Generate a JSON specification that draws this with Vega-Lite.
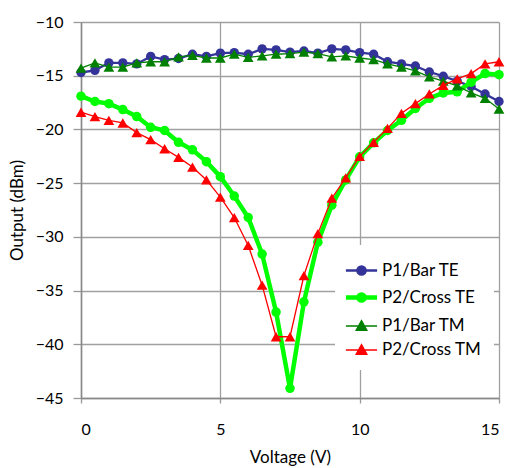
{
  "$schema": "https://vega.github.io/schema/vega-lite/v6.json",
  "width": 418,
  "height": 376,
  "autosize": "none",
  "padding": {"left": 81, "top": 22, "right": 11, "bottom": 70},
  "background": "white",
  "config": {
    "font": "Lato",
    "view": {"stroke": null},
    "axis": {
      "grid": true,
      "gridColor": "#a0a0a0",
      "gridWidth": 1.3,
      "domainColor": "#888888",
      "domainWidth": 1.5,
      "tickColor": "#999999",
      "tickWidth": 1.3,
      "labelColor": "black",
      "labelFontSize": 16,
      "titleColor": "black",
      "titleFontSize": 17,
      "titleFontWeight": "normal"
    },
    "legend": {
      "orient": "none", "legendX": 254, "legendY": 223, "title": null,
      "fillColor": "white", "padding": 12,
      "symbolSize": 576, "symbolOpacity": 1,
      "labelFontSize": 17, "labelColor": "black", "labelOffset": 6, "rowPadding": 3
    }
  },
  "datasets": {
    "pts": [
      {"v": 0, "s": "P1/Bar TE", "y": -14.7}, {"v": 0.5, "s": "P1/Bar TE", "y": -14.5}, {"v": 1, "s": "P1/Bar TE", "y": -13.8}, {"v": 1.5, "s": "P1/Bar TE", "y": -13.8}, {"v": 2, "s": "P1/Bar TE", "y": -13.9}, {"v": 2.5, "s": "P1/Bar TE", "y": -13.2}, {"v": 3, "s": "P1/Bar TE", "y": -13.5}, {"v": 3.5, "s": "P1/Bar TE", "y": -13.4}, {"v": 4, "s": "P1/Bar TE", "y": -13.0}, {"v": 4.5, "s": "P1/Bar TE", "y": -13.2}, {"v": 5, "s": "P1/Bar TE", "y": -12.9}, {"v": 5.5, "s": "P1/Bar TE", "y": -12.85}, {"v": 6, "s": "P1/Bar TE", "y": -13.0}, {"v": 6.5, "s": "P1/Bar TE", "y": -12.5}, {"v": 7, "s": "P1/Bar TE", "y": -12.6}, {"v": 7.5, "s": "P1/Bar TE", "y": -12.8}, {"v": 8, "s": "P1/Bar TE", "y": -12.7}, {"v": 8.5, "s": "P1/Bar TE", "y": -12.9}, {"v": 9, "s": "P1/Bar TE", "y": -12.5}, {"v": 9.5, "s": "P1/Bar TE", "y": -12.6}, {"v": 10, "s": "P1/Bar TE", "y": -12.85}, {"v": 10.5, "s": "P1/Bar TE", "y": -13.0}, {"v": 11, "s": "P1/Bar TE", "y": -13.7}, {"v": 11.5, "s": "P1/Bar TE", "y": -13.9}, {"v": 12, "s": "P1/Bar TE", "y": -14.1}, {"v": 12.5, "s": "P1/Bar TE", "y": -14.65}, {"v": 13, "s": "P1/Bar TE", "y": -15.05}, {"v": 13.5, "s": "P1/Bar TE", "y": -15.5}, {"v": 14, "s": "P1/Bar TE", "y": -16.0}, {"v": 14.5, "s": "P1/Bar TE", "y": -16.7}, {"v": 15, "s": "P1/Bar TE", "y": -17.4},
      {"v": 0, "s": "P2/Cross TE", "y": -16.9}, {"v": 0.5, "s": "P2/Cross TE", "y": -17.4}, {"v": 1, "s": "P2/Cross TE", "y": -17.6}, {"v": 1.5, "s": "P2/Cross TE", "y": -18.15}, {"v": 2, "s": "P2/Cross TE", "y": -18.8}, {"v": 2.5, "s": "P2/Cross TE", "y": -19.8}, {"v": 3, "s": "P2/Cross TE", "y": -20.1}, {"v": 3.5, "s": "P2/Cross TE", "y": -21.2}, {"v": 4, "s": "P2/Cross TE", "y": -21.9}, {"v": 4.5, "s": "P2/Cross TE", "y": -23.0}, {"v": 5, "s": "P2/Cross TE", "y": -24.4}, {"v": 5.5, "s": "P2/Cross TE", "y": -26.2}, {"v": 6, "s": "P2/Cross TE", "y": -28.2}, {"v": 6.5, "s": "P2/Cross TE", "y": -31.6}, {"v": 7, "s": "P2/Cross TE", "y": -37.0}, {"v": 7.5, "s": "P2/Cross TE", "y": -44.1}, {"v": 8, "s": "P2/Cross TE", "y": -36.05}, {"v": 8.5, "s": "P2/Cross TE", "y": -30.5}, {"v": 9, "s": "P2/Cross TE", "y": -27.05}, {"v": 9.5, "s": "P2/Cross TE", "y": -24.7}, {"v": 10, "s": "P2/Cross TE", "y": -22.55}, {"v": 10.5, "s": "P2/Cross TE", "y": -21.25}, {"v": 11, "s": "P2/Cross TE", "y": -20.1}, {"v": 11.5, "s": "P2/Cross TE", "y": -19.15}, {"v": 12, "s": "P2/Cross TE", "y": -18.05}, {"v": 12.5, "s": "P2/Cross TE", "y": -17.1}, {"v": 13, "s": "P2/Cross TE", "y": -16.6}, {"v": 13.5, "s": "P2/Cross TE", "y": -16.5}, {"v": 14, "s": "P2/Cross TE", "y": -15.6}, {"v": 14.5, "s": "P2/Cross TE", "y": -14.8}, {"v": 15, "s": "P2/Cross TE", "y": -14.9},
      {"v": 0, "s": "P1/Bar TM", "y": -14.3}, {"v": 0.5, "s": "P1/Bar TM", "y": -13.8}, {"v": 1, "s": "P1/Bar TM", "y": -14.2}, {"v": 1.5, "s": "P1/Bar TM", "y": -14.2}, {"v": 2, "s": "P1/Bar TM", "y": -13.8}, {"v": 2.5, "s": "P1/Bar TM", "y": -13.7}, {"v": 3, "s": "P1/Bar TM", "y": -13.7}, {"v": 3.5, "s": "P1/Bar TM", "y": -13.25}, {"v": 4, "s": "P1/Bar TM", "y": -13.1}, {"v": 4.5, "s": "P1/Bar TM", "y": -13.35}, {"v": 5, "s": "P1/Bar TM", "y": -13.35}, {"v": 5.5, "s": "P1/Bar TM", "y": -13.0}, {"v": 6, "s": "P1/Bar TM", "y": -13.3}, {"v": 6.5, "s": "P1/Bar TM", "y": -13.15}, {"v": 7, "s": "P1/Bar TM", "y": -13.0}, {"v": 7.5, "s": "P1/Bar TM", "y": -12.95}, {"v": 8, "s": "P1/Bar TM", "y": -12.8}, {"v": 8.5, "s": "P1/Bar TM", "y": -12.95}, {"v": 9, "s": "P1/Bar TM", "y": -13.25}, {"v": 9.5, "s": "P1/Bar TM", "y": -13.15}, {"v": 10, "s": "P1/Bar TM", "y": -13.35}, {"v": 10.5, "s": "P1/Bar TM", "y": -13.5}, {"v": 11, "s": "P1/Bar TM", "y": -13.9}, {"v": 11.5, "s": "P1/Bar TM", "y": -14.2}, {"v": 12, "s": "P1/Bar TM", "y": -14.55}, {"v": 12.5, "s": "P1/Bar TM", "y": -15.1}, {"v": 13, "s": "P1/Bar TM", "y": -15.5}, {"v": 13.5, "s": "P1/Bar TM", "y": -15.95}, {"v": 14, "s": "P1/Bar TM", "y": -16.6}, {"v": 14.5, "s": "P1/Bar TM", "y": -17.1}, {"v": 15, "s": "P1/Bar TM", "y": -18.1},
      {"v": 0, "s": "P2/Cross TM", "y": -18.4}, {"v": 0.5, "s": "P2/Cross TM", "y": -18.8}, {"v": 1, "s": "P2/Cross TM", "y": -19.15}, {"v": 1.5, "s": "P2/Cross TM", "y": -19.4}, {"v": 2, "s": "P2/Cross TM", "y": -20.3}, {"v": 2.5, "s": "P2/Cross TM", "y": -20.95}, {"v": 3, "s": "P2/Cross TM", "y": -21.8}, {"v": 3.5, "s": "P2/Cross TM", "y": -22.6}, {"v": 4, "s": "P2/Cross TM", "y": -23.5}, {"v": 4.5, "s": "P2/Cross TM", "y": -24.7}, {"v": 5, "s": "P2/Cross TM", "y": -26.3}, {"v": 5.5, "s": "P2/Cross TM", "y": -28.2}, {"v": 6, "s": "P2/Cross TM", "y": -30.8}, {"v": 6.5, "s": "P2/Cross TM", "y": -34.5}, {"v": 7, "s": "P2/Cross TM", "y": -39.3}, {"v": 7.5, "s": "P2/Cross TM", "y": -39.3}, {"v": 8, "s": "P2/Cross TM", "y": -33.6}, {"v": 8.5, "s": "P2/Cross TM", "y": -29.7}, {"v": 9, "s": "P2/Cross TM", "y": -26.4}, {"v": 9.5, "s": "P2/Cross TM", "y": -24.5}, {"v": 10, "s": "P2/Cross TM", "y": -22.5}, {"v": 10.5, "s": "P2/Cross TM", "y": -21.2}, {"v": 11, "s": "P2/Cross TM", "y": -19.9}, {"v": 11.5, "s": "P2/Cross TM", "y": -18.5}, {"v": 12, "s": "P2/Cross TM", "y": -17.6}, {"v": 12.5, "s": "P2/Cross TM", "y": -16.7}, {"v": 13, "s": "P2/Cross TM", "y": -15.9}, {"v": 13.5, "s": "P2/Cross TM", "y": -15.3}, {"v": 14, "s": "P2/Cross TM", "y": -14.8}, {"v": 14.5, "s": "P2/Cross TM", "y": -13.9}, {"v": 15, "s": "P2/Cross TM", "y": -13.7}
    ]
  },
  "data": {"name": "pts"},
  "encoding": {
    "x": {
      "field": "v", "type": "quantitative",
      "scale": {"domain": [0, 15], "nice": false, "zero": false},
      "axis": {"values": [0, 5, 10, 15], "title": "Voltage (V)", "tickSize": 5, "labelPadding": 18, "titlePadding": 12}
    },
    "y": {
      "field": "y", "type": "quantitative",
      "scale": {"domain": [-45, -10], "nice": false, "zero": false},
      "axis": {"values": [-45, -40, -35, -30, -25, -20, -15, -10], "title": "Output (dBm)", "tickSize": 8, "labelPadding": 10, "titlePadding": 9}
    }
  },
  "layer": [
    {
      "mark": {"type": "point", "filled": true, "opacity": 0},
      "encoding": {
        "fill": {
          "field": "s", "type": "nominal",
          "scale": {"domain": ["P1/Bar TE", "P2/Cross TE", "P1/Bar TM", "P2/Cross TM"], "range": ["#333399", "#00ff00", "#008000", "#ff0000"]}
        },
        "stroke": {
          "field": "s", "type": "nominal",
          "scale": {"domain": ["P1/Bar TE", "P2/Cross TE", "P1/Bar TM", "P2/Cross TM"], "range": ["#333399", "#00ff00", "#008000", "#ff0000"]}
        },
        "shape": {
          "field": "s", "type": "nominal",
          "scale": {"domain": ["P1/Bar TE", "P2/Cross TE", "P1/Bar TM", "P2/Cross TM"], "range": [
            "M-1.3,0L1.3,0M-0.34,0A0.34,0.34,0,1,1,0.34,0A0.34,0.34,0,1,1,-0.34,0Z",
            "M-1.3,0L1.3,0M-0.26,0A0.26,0.26,0,1,1,0.26,0A0.26,0.26,0,1,1,-0.26,0Z",
            "M-1.3,0L1.3,0M0,-0.45L0.45,0.36L-0.45,0.36Z",
            "M-1.3,0L1.3,0M0,-0.45L0.45,0.36L-0.45,0.36Z"
          ]}
        },
        "strokeWidth": {
          "field": "s", "type": "nominal",
          "scale": {"type": "ordinal", "domain": ["P1/Bar TE", "P2/Cross TE", "P1/Bar TM", "P2/Cross TM"], "range": [2.5, 4.5, 1.3, 1.3]}
        }
      }
    },
    {
      "transform": [{"filter": "datum.s == 'P1/Bar TE'"}],
      "mark": {"type": "line", "color": "#333399", "strokeWidth": 2.3, "point": {"filled": true, "shape": "circle", "size": 88, "opacity": 1, "color": "#333399"}}
    },
    {
      "transform": [{"filter": "datum.s == 'P2/Cross TE'"}],
      "mark": {"type": "line", "color": "#00ff00", "strokeWidth": 4.5, "point": {"filled": true, "shape": "circle", "size": 90, "opacity": 1, "color": "#00ff00"}}
    },
    {
      "transform": [{"filter": "datum.s == 'P1/Bar TM'"}],
      "mark": {"type": "line", "color": "#008000", "strokeWidth": 1.3, "point": {"filled": true, "shape": "triangle-up", "size": 115, "opacity": 1, "color": "#008000"}}
    },
    {
      "transform": [{"filter": "datum.s == 'P2/Cross TM'"}],
      "mark": {"type": "line", "color": "#ff0000", "strokeWidth": 1.3, "point": {"filled": true, "shape": "triangle-up", "size": 115, "opacity": 1, "color": "#ff0000"}}
    }
  ]
}
